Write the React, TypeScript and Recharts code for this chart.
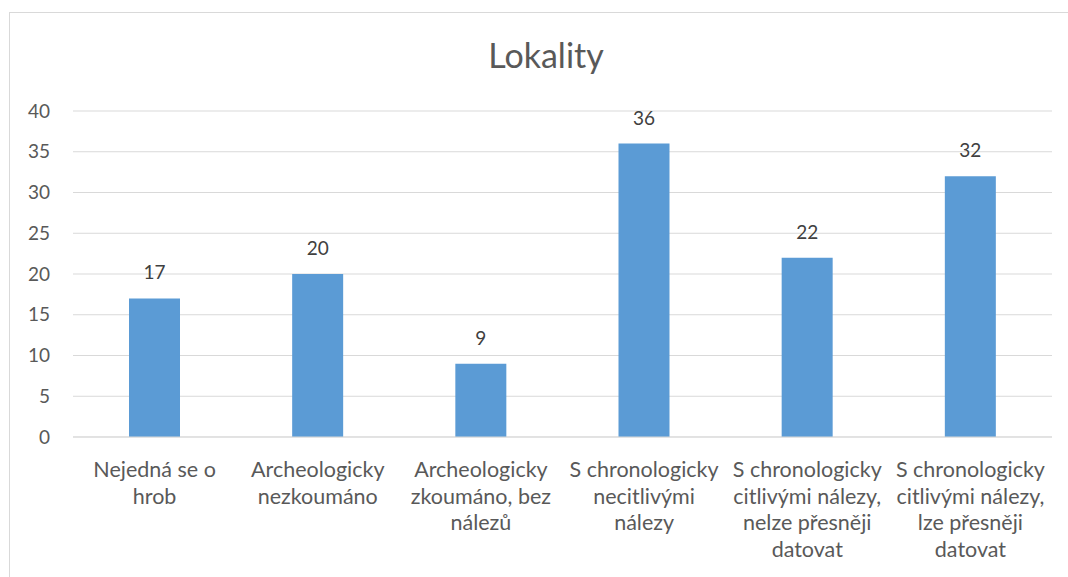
import React from 'react';
import { BarChart, Bar, XAxis, YAxis, CartesianGrid, LabelList } from 'recharts';

const categories = [
  'Nejedná se o\nhrob',
  'Archeologicky\nnezkoumáno',
  'Archeologicky\nzkoumáno, bez\nnálezů',
  'S chronologicky\nnecitlivými\nnálezy',
  'S chronologicky\ncitlivými nálezy,\nnelze přesněji\ndatovat',
  'S chronologicky\ncitlivými nálezy,\nlze přesněji\ndatovat',
];
const values = [17, 20, 9, 36, 22, 32];
const yTicks = [0, 5, 10, 15, 20, 25, 30, 35, 40];

const data = categories.map((name, i) => ({ name, value: values[i] }));

const FONT = 'Lato, "Open Sans", sans-serif';

const CategoryTick = (props: any) => {
  const { x, y, payload } = props;
  const lines = String(payload.value).split('\n');
  return (
    <g transform={`translate(${x},${y})`}>
      {lines.map((line, i) => (
        <text key={i} x={0} y={32 + i * 26.6} textAnchor="middle" fill="#595959" fontSize={21.5} fontFamily={FONT}>
          {line}
        </text>
      ))}
    </g>
  );
};

export default function App() {
  return (
    <div style={{ position: 'absolute', left: 0, top: 0, width: 1068, height: 577, overflow: 'hidden', background: '#fff' }}>
      <div style={{ position: 'absolute', left: 9, top: 12, width: 1100, height: 700, border: '1px solid #d9d9d9' }} />
      <div style={{ position: 'absolute', left: 0, top: 34, width: 1092, textAlign: 'center', fontFamily: FONT, fontSize: 34, color: '#595959' }}>
        Lokality
      </div>
      <div style={{ position: 'absolute', left: 0, top: 0 }}>
        <BarChart width={1068} height={577} data={data} margin={{ top: 111, right: 16, left: 0, bottom: 0 }} barSize={51}>
          <CartesianGrid vertical={false} stroke="#d9d9d9" />
          <XAxis dataKey="name" height={140} interval={0} tickLine={false} axisLine={{ stroke: '#d9d9d9' }} tick={<CategoryTick />} />
          <YAxis width={73} domain={[0, 40]} ticks={yTicks} axisLine={false} tickLine={false} tickSize={0} tickMargin={23}
            tick={{ fill: '#595959', fontSize: 19, fontFamily: FONT }} />
          <Bar dataKey="value" fill="#5B9BD5" isAnimationActive={false}>
            <LabelList dataKey="value" position="top" offset={19} fill="#404040" fontSize={19} fontFamily={FONT} />
          </Bar>
        </BarChart>
      </div>
    </div>
  );
}
